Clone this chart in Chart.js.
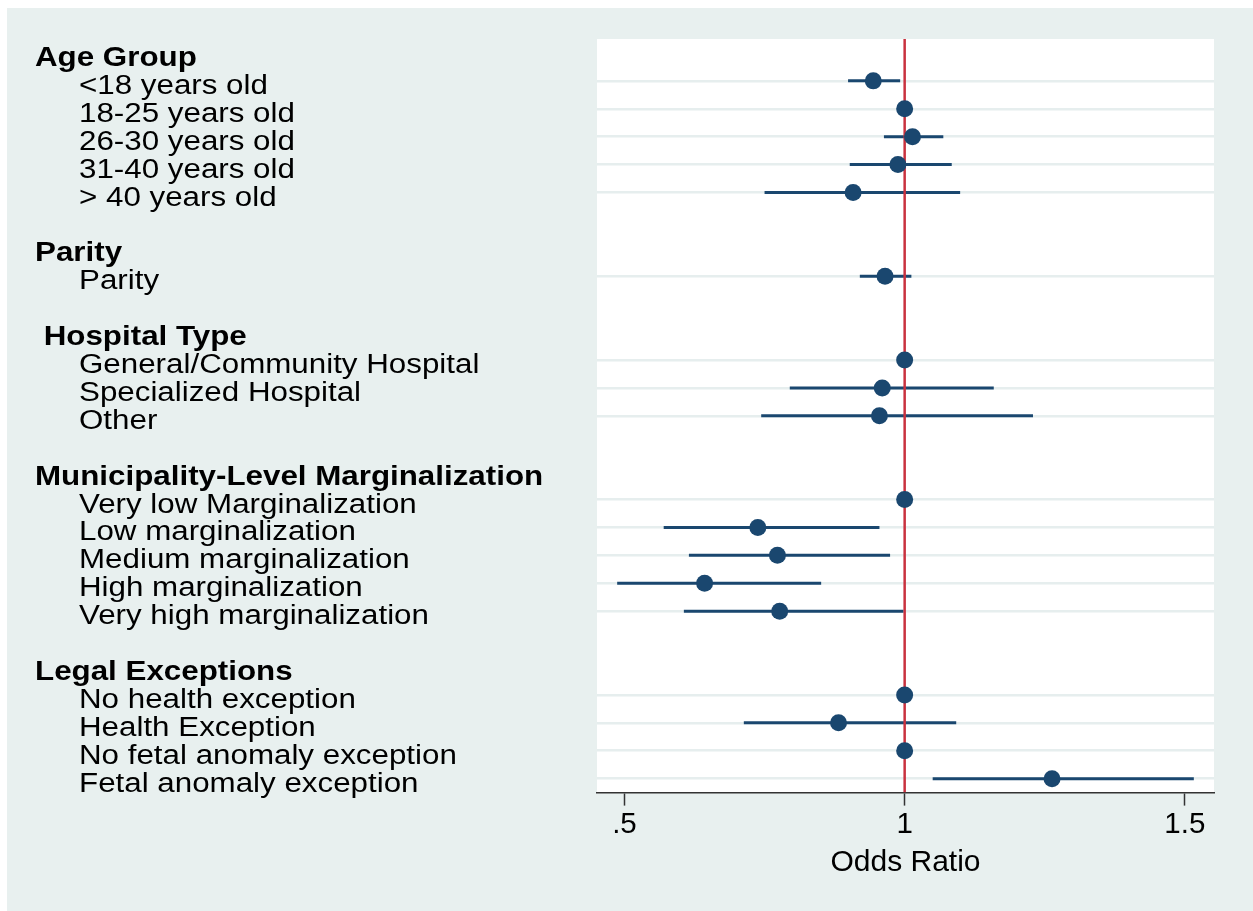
<!DOCTYPE html>
<html>
<head>
<meta charset="utf-8">
<script src="https://cdn.jsdelivr.net/npm/chart.js@4.4.0/dist/chart.umd.min.js"></script>
<style>
  html, body { margin: 0; padding: 0; background: #ffffff; }
  canvas { display: block; }
</style>
</head>
<body>
<canvas id="myChart" width="1253" height="911"></canvas>
<script>
// rows top to bottom; '' = spacer row
const rowLabels = [
    'Age Group', '<18 years old', '18-25 years old', '26-30 years old', '31-40 years old', '> 40 years old',
    '',
    'Parity', 'Parity',
    '',
    ' Hospital Type', 'General/Community Hospital', 'Specialized Hospital', 'Other',
    '',
    'Municipality-Level Marginalization', 'Very low Marginalization', 'Low marginalization',
    'Medium marginalization', 'High marginalization', 'Very high marginalization',
    '',
    'Legal Exceptions', 'No health exception', 'Health Exception', 'No fetal anomaly exception', 'Fetal anomaly exception',
];
const headerRows = [0, 7, 10, 15, 22];

const oddsRatio = [
    null, 0.944, 1, 1.014, 0.988, 0.908,
    null,
    null, 0.965,
    null,
    null, 1, 0.960, 0.955,
    null,
    null, 1, 0.738, 0.773, 0.643, 0.777,
    null,
    null, 1, 0.882, 1, 1.263,
];
const ciLower = [
    null, 0.899, null, 0.963, 0.902, 0.750,
    null,
    null, 0.920,
    null,
    null, null, 0.795, 0.744,
    null,
    null, null, 0.570, 0.615, 0.487, 0.606,
    null,
    null, null, 0.713, null, 1.050,
];
const ciUpper = [
    null, 0.992, null, 1.069, 1.084, 1.099,
    null,
    null, 1.012,
    null,
    null, null, 1.159, 1.229,
    null,
    null, null, 0.955, 0.974, 0.851, 0.998,
    null,
    null, null, 1.092, null, 1.516,
];
const xTicks = [0.5, 1, 1.5];
const xTickLabels = ['.5', '1', '1.5'];
const refValue = 1;

const navy = '#1a476f';
const bgColor = '#e8f0ef';

const dataRows = oddsRatio.map((v, i) => (v === null ? null : i)).filter(i => i !== null);

const datasets = [];

// confidence intervals
rowLabels.forEach((label, i) => {
    if (ciLower[i] === null) return;
    datasets.push({
        type: 'line',
        data: [{ x: ciLower[i], y: i }, { x: ciUpper[i], y: i }],
        borderColor: navy,
        borderWidth: 3,
        pointRadius: 0,
        showLine: true,
        order: 3,
    });
});

// reference line at OR = 1
datasets.push({
    type: 'line',
    data: [{ x: refValue, y: -0.5 }, { x: refValue, y: rowLabels.length - 0.5 }],
    borderColor: '#c9323f',
    borderWidth: 2.5,
    pointRadius: 0,
    showLine: true,
    order: 2,
});

// point estimates
datasets.push({
    type: 'scatter',
    data: dataRows.map(i => ({ x: oddsRatio[i], y: i })),
    backgroundColor: navy,
    borderWidth: 0,
    pointRadius: 8.5,
    order: 1,
});

const backgroundPlugin = {
    id: 'stataBackground',
    beforeDraw(chart) {
        const { ctx, chartArea } = chart;
        ctx.save();
        ctx.fillStyle = bgColor;
        ctx.fillRect(7, 8, chart.width - 7, chart.height - 8);
        ctx.fillStyle = '#ffffff';
        ctx.fillRect(chartArea.left, chartArea.top, chartArea.right - chartArea.left, chartArea.bottom - chartArea.top);
        ctx.restore();
    },
};

// row labels on the left, drawn at the y scale positions
const rowLabelPlugin = {
    id: 'rowLabels',
    afterDraw(chart) {
        const { ctx } = chart;
        const yScale = chart.scales.y;
        ctx.save();
        ctx.fillStyle = '#000000';
        ctx.textBaseline = 'alphabetic';
        ctx.textAlign = 'left';
        rowLabels.forEach((label, i) => {
            if (!label) return;
            const header = headerRows.includes(i);
            ctx.font = (header ? 'bold ' : '') + '27px "Liberation Sans", Arial, sans-serif';
            ctx.save();
            ctx.translate(header ? 35 : 79, yScale.getPixelForValue(i) + 13);
            ctx.scale(1.16, 1);
            ctx.fillText(label, 0, 0);
            ctx.restore();
        });
        ctx.restore();
    },
};

const ctx = document.getElementById('myChart').getContext('2d');
const myChart = new Chart(ctx, {
    type: 'scatter',
    data: { datasets: datasets },
    plugins: [backgroundPlugin, rowLabelPlugin],
    options: {
        responsive: false,
        animation: false,
        devicePixelRatio: 1,
        layout: {
            padding: { left: 597, top: 39, right: 39, bottom: 22 },
        },
        plugins: {
            legend: { display: false },
            tooltip: { enabled: false },
        },
        scales: {
            x: {
                type: 'linear',
                min: 0.451,
                max: 1.552,
                afterBuildTicks: axis => {
                    axis.ticks = xTicks.map(v => ({ value: v }));
                },
                ticks: {
                    callback: value => xTickLabels[xTicks.indexOf(value)],
                    color: '#000000',
                    font: { family: '"Liberation Sans", Arial, sans-serif', size: 29.5 },
                    padding: 2,
                    maxRotation: 0,
                    autoSkip: false,
                },
                grid: {
                    drawOnChartArea: false,
                    drawTicks: true,
                    tickLength: 13,
                    tickColor: '#333333',
                    tickWidth: 1.5,
                },
                border: { display: true, color: '#333333', width: 1.5 },
                title: {
                    display: true,
                    text: 'Odds Ratio',
                    color: '#000000',
                    font: { family: '"Liberation Sans", Arial, sans-serif', size: 30 },
                    padding: { top: 0, bottom: 8 },
                },
            },
            y: {
                type: 'linear',
                reverse: true,
                min: -0.5,
                max: rowLabels.length - 0.5,
                afterBuildTicks: axis => {
                    axis.ticks = dataRows.map(v => ({ value: v }));
                },
                ticks: { display: false },
                grid: {
                    color: '#e6eeee',
                    lineWidth: 2.5,
                    drawTicks: false,
                },
                border: { display: false },
            },
        },
    },
});
</script>
</body>
</html>
